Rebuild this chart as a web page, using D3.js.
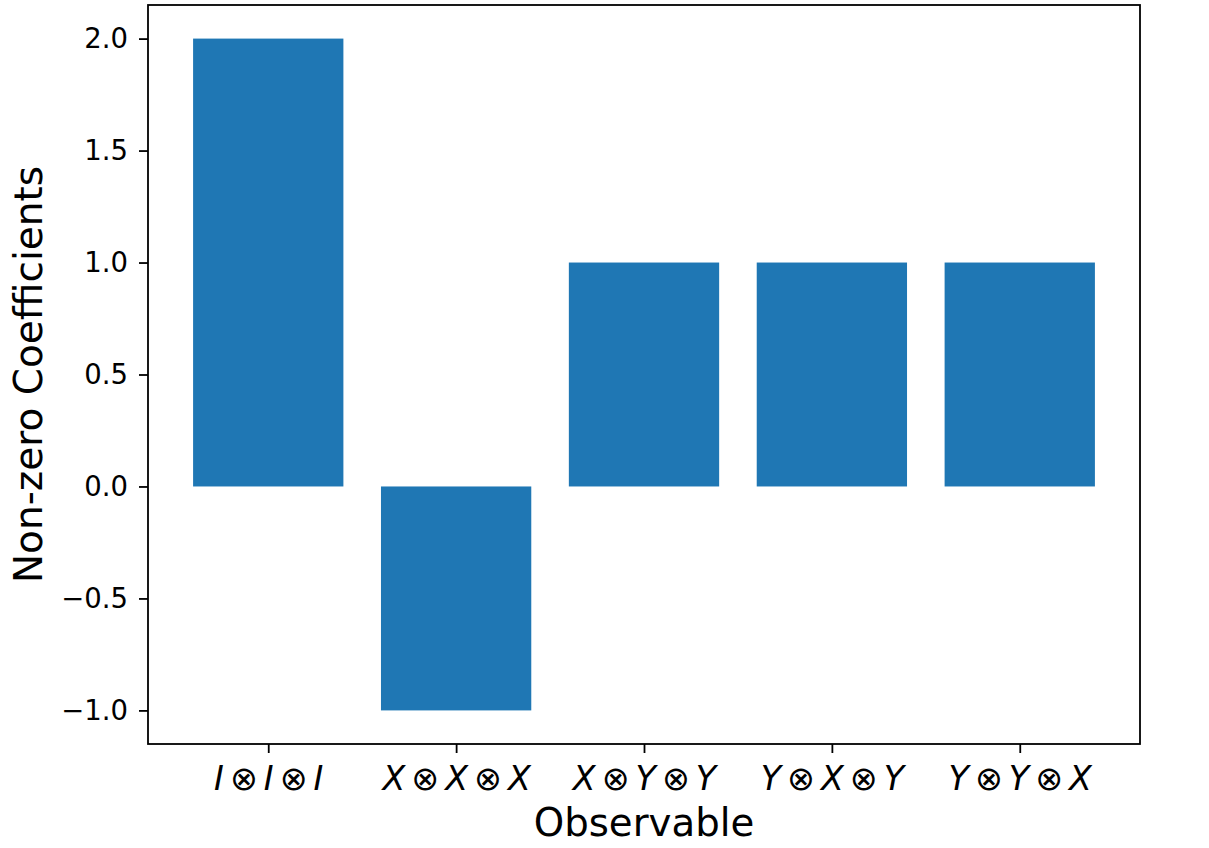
<!DOCTYPE html>
<html><head><meta charset="utf-8">
<script src="https://cdn.jsdelivr.net/npm/d3@7"></script>
<style>body{margin:0;background:#fff}svg text{font-family:"DejaVu Sans",sans-serif}</style>
</head><body><svg id="c" width="1209" height="848"></svg>
<script>
const categories = [["I","I","I"],["X","X","X"],["X","Y","Y"],["Y","X","Y"],["Y","Y","X"]];
const values = [2.0, -1.0, 1.0, 1.0, 1.0];
const yTicks = [-1.0, -0.5, 0.0, 0.5, 1.0, 1.5, 2.0];

const svg = d3.select("#c");
const L = 148, R = 1140, T = 5, B = 744;
const x = d3.scaleLinear().domain([-0.64, 4.64]).range([L, R]);
const y = d3.scaleLinear().domain([-1.15, 2.15]).range([B, T]);
const bw = 0.8;

svg.append("g").selectAll("rect").data(values).join("rect")
  .attr("x", (d,i) => x(i - bw/2))
  .attr("width", (d,i) => x(i + bw/2) - x(i - bw/2))
  .attr("y", d => y(Math.max(0, d)))
  .attr("height", d => Math.abs(y(d) - y(0)))
  .attr("fill", "#1f77b4");

const ya = svg.append("g").attr("transform", `translate(${L},0)`)
  .call(d3.axisLeft(y).tickValues(yTicks).tickSize(9).tickPadding(11)
    .tickFormat(d => d3.format(".1f")(d).replace("-", "\u2212")));
ya.select(".domain").remove();
ya.selectAll("line").attr("stroke", "#000").attr("stroke-width", 1.8);
ya.selectAll("text").attr("font-size", 27.5).attr("fill", "#000").attr("font-family", "DejaVu Sans");

const xa = svg.append("g").attr("transform", `translate(0,${B})`)
  .call(d3.axisBottom(x).tickValues(d3.range(categories.length)).tickSize(9).tickPadding(7).tickFormat(""));
xa.select(".domain").remove();
xa.selectAll("line").attr("stroke", "#000").attr("stroke-width", 1.8);
xa.selectAll(".tick").each(function(d){
  const t = d3.select(this).append("text").attr("y", 46).attr("text-anchor", "middle")
    .attr("font-size", 33.3).attr("fill", "#000").attr("font-family", "DejaVu Sans");
  const parts = categories[d];
  parts.forEach((p, j) => {
    t.append("tspan").attr("font-style", "italic").attr("dx", j ? 6 : 0).text(p);
    if (j < parts.length - 1) t.append("tspan").attr("dx", 6).text("\u2297");
  });
});

svg.append("rect").attr("x", L).attr("y", T).attr("width", R - L).attr("height", B - T)
  .attr("fill", "none").attr("stroke", "#000").attr("stroke-width", 1.8);

svg.append("text").attr("x", (L + R)/2).attr("y", 836).attr("text-anchor", "middle")
  .attr("font-size", 38.7).attr("fill", "#000").text("Observable");
svg.append("text").attr("transform", `translate(42,${(T + B)/2}) rotate(-90)`).attr("text-anchor", "middle")
  .attr("font-size", 39).attr("fill", "#000").text("Non-zero Coefficients");
</script></body></html>
